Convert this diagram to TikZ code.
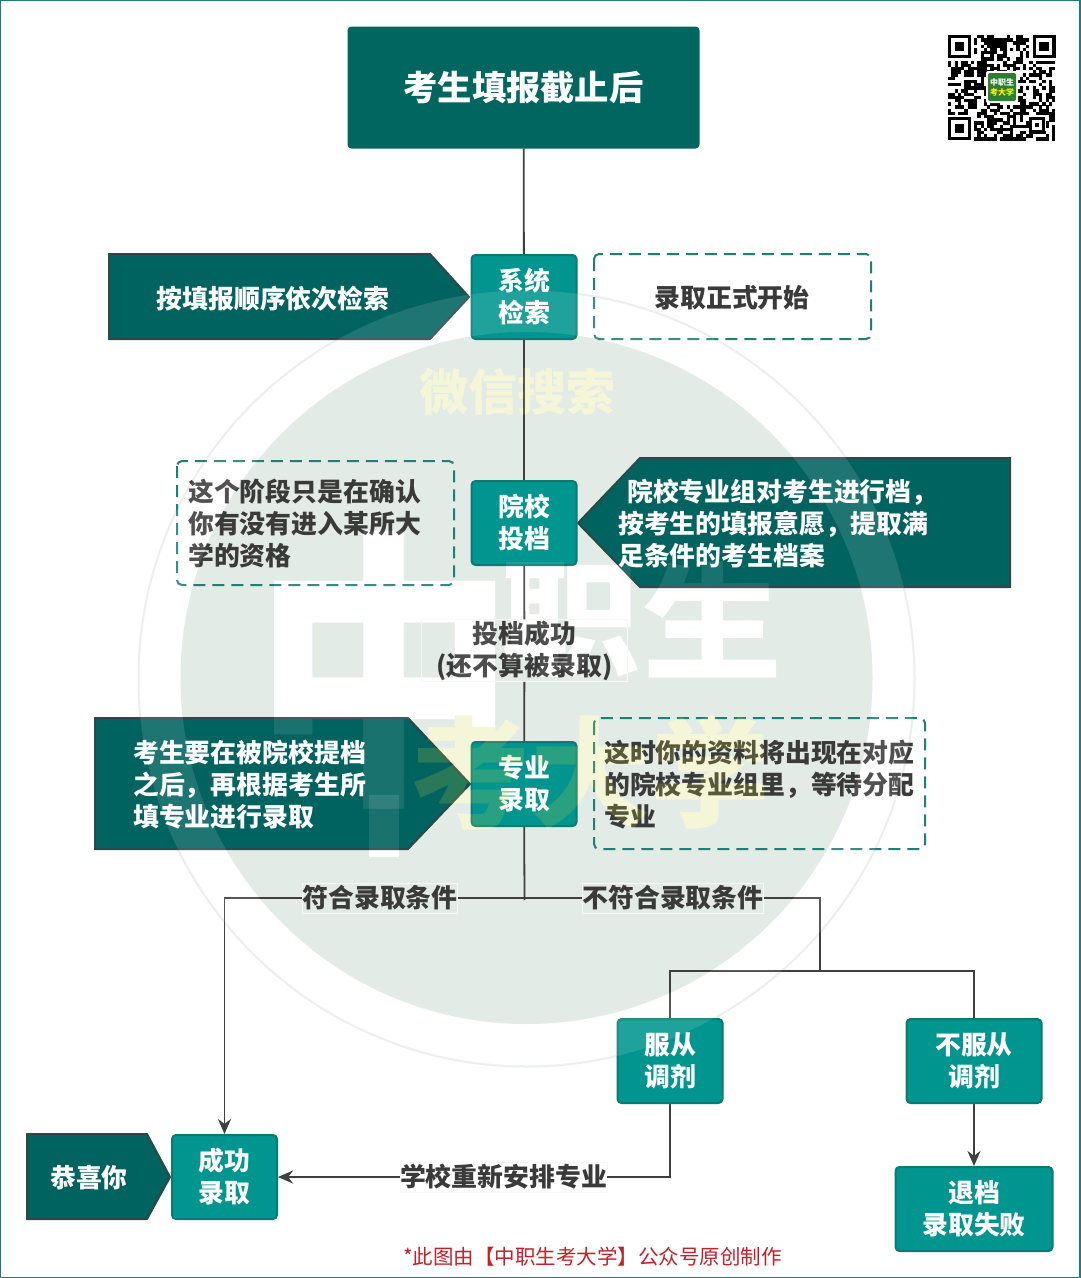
\documentclass[tikz,border=0pt]{standalone}
\usepackage{fontspec}
\setmainfont{Noto Sans CJK SC}
\usetikzlibrary{arrows.meta}
\definecolor{darkteal}{HTML}{00635F}
\definecolor{titleteal}{HTML}{00665F}
\definecolor{midteal}{HTML}{00958F}
\definecolor{edgeteal}{HTML}{0B7A72}
\definecolor{dashteal}{HTML}{1F7F74}
\definecolor{darkedge}{HTML}{2A4A48}
\definecolor{wdisk}{HTML}{E3EBE6}
\definecolor{wring}{HTML}{EBEEEC}
\definecolor{wyellow}{HTML}{D0D040}
\definecolor{ink}{HTML}{3A3A3A}
\definecolor{linecol}{HTML}{3F3F3F}
\definecolor{redtxt}{HTML}{C4202A}
\definecolor{logogreen}{HTML}{2E7D32}
\newcommand{\fsz}[1]{\fontsize{#1}{#1}\selectfont\bfseries}
\tikzset{
  tealbox/.style={draw=edgeteal,line width=2pt,fill=midteal,rounded corners=4pt,text=white,
    inner sep=0pt,align=center,font=\fontsize{25.85}{32}\selectfont\bfseries},
  darkshape/.style={draw=darkedge,line width=2pt,fill=darkteal,line join=miter},
  dashbox/.style={draw=dashteal,line width=2pt,rounded corners=5pt,dash pattern=on 12pt off 7pt},
  whitetxt/.style={text=white,inner sep=0pt,align=left,font=\fontsize{25.85}{32}\selectfont\bfseries},
  darktxt/.style={text=ink,inner sep=0pt,align=left,font=\fontsize{25.85}{32}\selectfont\bfseries},
  lab/.style={draw=black!3,line width=0.5pt,text=ink,inner sep=0pt,align=center,font=\fontsize{25.85}{32}\selectfont\bfseries},
  conn/.style={draw=linecol,line width=1.8pt},
  connarrow/.style={conn,-{Stealth[length=15pt,width=13pt]}},
  wmnode/.style={inner sep=0pt,transform shape},
}
% watermark lettering: #1 name suffix, #2 white-letter options, #3 yellow-letter options
\newcommand{\wmletters}[3]{
  \node[wmnode,#2,xscale=1.1,yscale=1.22] (zhong#1) at (384,670) {\fsz{240}中};
  \node[wmnode,#2,yscale=0.9] (zhi#1) at (570,620) {\fsz{140}职};
  \node[wmnode,#2,yscale=0.9] (sheng#1) at (712,620) {\fsz{140}生};
  \node[wmnode,#3] (kao#1) at (590,772) {\fsz{120}考大学};
  \node[wmnode,#3] (wx#1) at (517,392) {\fsz{49}微信搜索};
}
\begin{document}
\begin{tikzpicture}[x=1pt,y=-1pt]
\useasboundingbox (0,0) rectangle (1080,1278);
\fill[white] (0,0) rectangle (1080,1278);
\draw[dashteal,line width=2pt] (0,0) rectangle (1080,1278);

% watermark base
\draw[wring,line width=2pt] (526.5,678.5) circle[radius=388];
\fill[wdisk] (526.5,678) circle[radius=346];
\wmletters{A}{text=white}{text=white}
\fill[white] (369,795) rectangle (399,857);

% QR code
\pgfmathsetseed{2024}
\foreach \i in {0,...,32}{
  \foreach \j in {0,...,32}{
    \pgfmathparse{(rnd<0.55 && !((\i<8 && \j<8)||(\i>24 && \j<8)||(\i<8 && \j>24)||(\i>24 && \i<30 && \j>24 && \j<30)))?1:0}
    \ifnum\pgfmathresult>0
      \fill[black] ({948+\i*3.25},{35+\j*3.2}) rectangle ++(3.35,3.3);
    \fi
  }
}
\foreach \qx/\qy in {948/35, 1032.5/35, 948/117}{
  \fill[black] (\qx,\qy) rectangle ++(23,23);
  \fill[white] ({\qx+3.3},{\qy+3.3}) rectangle ++(16.4,16.4);
  \fill[black] ({\qx+6.6},{\qy+6.6}) rectangle ++(9.8,9.8);
}
\fill[black] (1029,117) rectangle ++(16,16);
\fill[white] (1032,120) rectangle ++(10,10);
\fill[black] (1035,123) rectangle ++(4,4);
\fill[white,rounded corners=2pt] (986,71) rectangle (1018,103);
\fill[logogreen,rounded corners=2pt] (988,73) rectangle (1016,101);
\node[inner sep=0pt,text=white] (logoa) at (1002,82) {\fsz{8}中职生};
\node[inner sep=0pt,text=yellow] (logob) at (1002,92) {\fsz{8}考大学};

% pointer shapes
\path[darkshape] (109,254) -- (430,254) -- (469,297) -- (430,339) -- (109,339) -- cycle;
\path[darkshape] (578,523) -- (640,458) -- (1010,458) -- (1010,587) -- (640,587) -- cycle;
\path[darkshape] (95,718) -- (408,718) -- (470,784) -- (408,849) -- (95,849) -- cycle;
\path[darkshape] (27,1134) -- (147,1134) -- (170,1177) -- (147,1219) -- (27,1219) -- cycle;

% dashed notes
\draw[dashbox] (594,254) rectangle (871,339);
\draw[dashbox] (177,461) rectangle (454,585);
\draw[dashbox] (594,718) rectangle (925,849);

% title
\node[draw=titleteal,line width=2pt,fill=titleteal,rounded corners=3pt,text=white,inner sep=0pt,
  minimum width=350pt,minimum height=120pt] (title) at (523.5,87.5) {\raisebox{-1pt}{\fsz{34.3}考生填报截止后}};

% step boxes
\node[tealbox,minimum width=105pt,minimum height=84pt] (sys) at (524,297) {系统\\检索};
\node[tealbox,minimum width=105pt,minimum height=84pt] (tou) at (524,523) {院校\\投档};
\node[tealbox,minimum width=105pt,minimum height=84pt] (zhuan) at (524,784) {专业\\录取};
\node[tealbox,minimum width=105pt,minimum height=84pt] (fu) at (670,1061) {服从\\调剂};
\node[tealbox,minimum width=135pt,minimum height=84pt] (bufu) at (974,1061) {不服从\\调剂};
\node[tealbox,minimum width=105pt,minimum height=84pt] (cheng) at (224.5,1177) {成功\\录取};
\node[tealbox,minimum width=157pt,minimum height=84pt] (tui) at (974,1209) {退档\\录取失败};

% pointer and note texts
\node[whitetxt] (ta) at (273,299) {按填报顺序依次检索};
\node[whitetxt,anchor=west] (tb) at (618,523) {\hspace*{9pt}院校专业组对考生进行档，\\按考生的填报意愿，提取满\\足条件的考生档案};
\node[whitetxt,anchor=west] (tc) at (133,785) {考生要在被院校提档\\之后，再根据考生所\\填专业进行录取};
\node[whitetxt] (td) at (89,1178) {恭喜你};
\node[darktxt] (na) at (732,298) {录取正式开始};
\node[darktxt,anchor=west] (nb) at (188,523) {这个阶段只是在确认\\你有没有进入某所大\\学的资格};
\node[darktxt,anchor=west] (nc) at (604,785) {这时你的资料将出现在对应\\的院校专业组里，等待分配\\专业};

% connector labels
\node[lab,minimum width=206pt,minimum height=62pt] (la) at (524.5,650.5) {投档成功\\(还不算被录取)};
\node[lab,minimum width=155pt,minimum height=30pt] (lb) at (380,898) {\raisebox{-1pt}{符合录取条件}};
\node[lab,minimum width=181pt,minimum height=30pt] (lc) at (673,898) {\raisebox{-1pt}{不符合录取条件}};
\node[lab,minimum width=206pt,minimum height=30pt] (ld) at (503.5,1177) {\raisebox{-1pt}{学校重新安排专业}};

% connectors
\coordinate (split) at (524.5,900);
\coordinate (splitr) at (524.5,898);
\coordinate (sub) at (820,971);
\draw[conn] (title) -- (sys);
\draw[conn] (sys) -- (tou);
\draw[conn] (tou) -- (la);
\draw[conn] (la) -- (zhuan);
\draw[conn] (zhuan) -- (split);
\draw[conn] (splitr) -- (lb);
\draw[conn] (splitr) -- (lc);
\draw[connarrow] (lb) -| (cheng);
\draw[conn] (lc) -| (sub);
\draw[conn] (fu) |- (sub) -| (bufu);
\draw[conn] (fu) |- (ld);
\draw[connarrow] (ld) -- (cheng);
\draw[connarrow] (bufu) -- (tui);

% watermark overlay
\fill[white,opacity=0.12,even odd rule] (526.5,678.5) circle[radius=388] (526.5,678) circle[radius=346];
\wmletters{B}{text=white,text opacity=0.1}{text=wyellow,text opacity=0.2}
\fill[white,opacity=0.1] (369,795) rectangle (399,857);

% footer
\node[inner sep=0pt,text=redtxt] (foot) at (592.5,1257) {\fontsize{20.5}{24}\selectfont *此图由【中职生考大学】公众号原创制作};
\end{tikzpicture}
\end{document}
